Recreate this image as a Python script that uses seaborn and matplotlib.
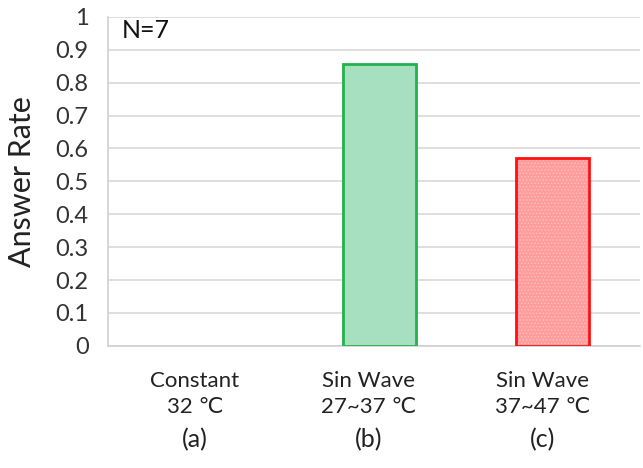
import numpy as np
import pandas as pd
import matplotlib
matplotlib.use('Agg')
import matplotlib.pyplot as plt
from matplotlib.ticker import FixedLocator
import seaborn as sns

sns.set_style('white')
plt.rcParams['font.family'] = ['Lato', 'DejaVu Sans']
plt.rcParams['hatch.linewidth'] = 0.6

conditions = ['Constant\n32 ℃', 'Sin Wave\n27~37 ℃', 'Sin Wave\n37~47 ℃']
panels = ['(a)', '(b)', '(c)']
answer_rate = [0.0, 6 / 7, 4 / 7]
fills = ['#a6e0c0', '#a6e0c0', '#ff9c9c']
edges = ['#22b24c', '#22b24c', '#ff1010']
hatches = ['', '', '.....']
hatch_colors = ['#a6e0c0', '#a6e0c0', '#ffc0c0']

df = pd.DataFrame({'cond': conditions, 'rate': answer_rate})

fig = plt.figure(figsize=(6.43, 4.68), dpi=100)
ax = fig.add_axes([0.168, 0.261, 0.827, 0.703])

# fill + dotted hatch pass
sns.barplot(data=df, x='cond', y='rate', hue='cond', palette=fills, width=0.42,
            saturation=1, legend=False, ax=ax, linewidth=0, zorder=2)
for p, h, hc in zip(ax.patches, hatches, hatch_colors):
    p.set_hatch(h)
    p.set_edgecolor(hc)
    p.set_linewidth(0)
# outline pass
sns.barplot(data=df, x='cond', y='rate', hue='cond', palette=fills, width=0.42,
            saturation=1, legend=False, ax=ax, fill=False, linewidth=2, zorder=3)
for p, ec, v in zip(ax.patches[3:], edges, answer_rate):
    p.set_edgecolor(ec)
    if v == 0:
        p.set_visible(False)
# bars sit slightly right of the category centre, as in the original
for p in ax.patches:
    p.set_x(p.get_x() + 0.06)

ticks = np.round(np.arange(0, 1.01, 0.1), 1)
ax.set_ylim(0, 1)
ax.set_xlim(-0.5, 2.56)
ax.set_yticks(ticks)
ax.set_yticklabels(['0' if t == 0 else ('1' if t == 1 else f'{t:.1f}') for t in ticks])
ax.grid(axis='y', color='#d9d9d9', linewidth=1.2, zorder=0)
ax.set_axisbelow(True)

for s in ['top', 'right']:
    ax.spines[s].set_visible(False)
for s in ['left', 'bottom']:
    ax.spines[s].set_color('#d0d0d0')
    ax.spines[s].set_linewidth(1.2)

ax.tick_params(axis='y', length=0, pad=14, labelsize=17, labelcolor='#333333')
ax.set_xticks(range(3))
ax.set_xticklabels(conditions, fontsize=16, color='#222222', linespacing=1.4)
ax.tick_params(axis='x', length=0, pad=18)
ax.xaxis.set_minor_locator(FixedLocator([-0.5, 0.5, 1.5]))
ax.tick_params(axis='x', which='minor', length=6, color='#d0d0d0', width=1.2)

for i, lab in enumerate(panels):
    ax.text(i, -0.285, lab, transform=ax.get_xaxis_transform(), ha='center', va='center',
            fontsize=18, color='#222222')

ax.text(0.025, 0.96, 'N=7', transform=ax.transAxes, ha='left', va='center',
        fontsize=18, color='#111111')

ax.set_xlabel('')
ax.set_ylabel('Answer Rate', fontsize=22, color='#222222', labelpad=14)

fig.savefig('out.png', dpi=100)
